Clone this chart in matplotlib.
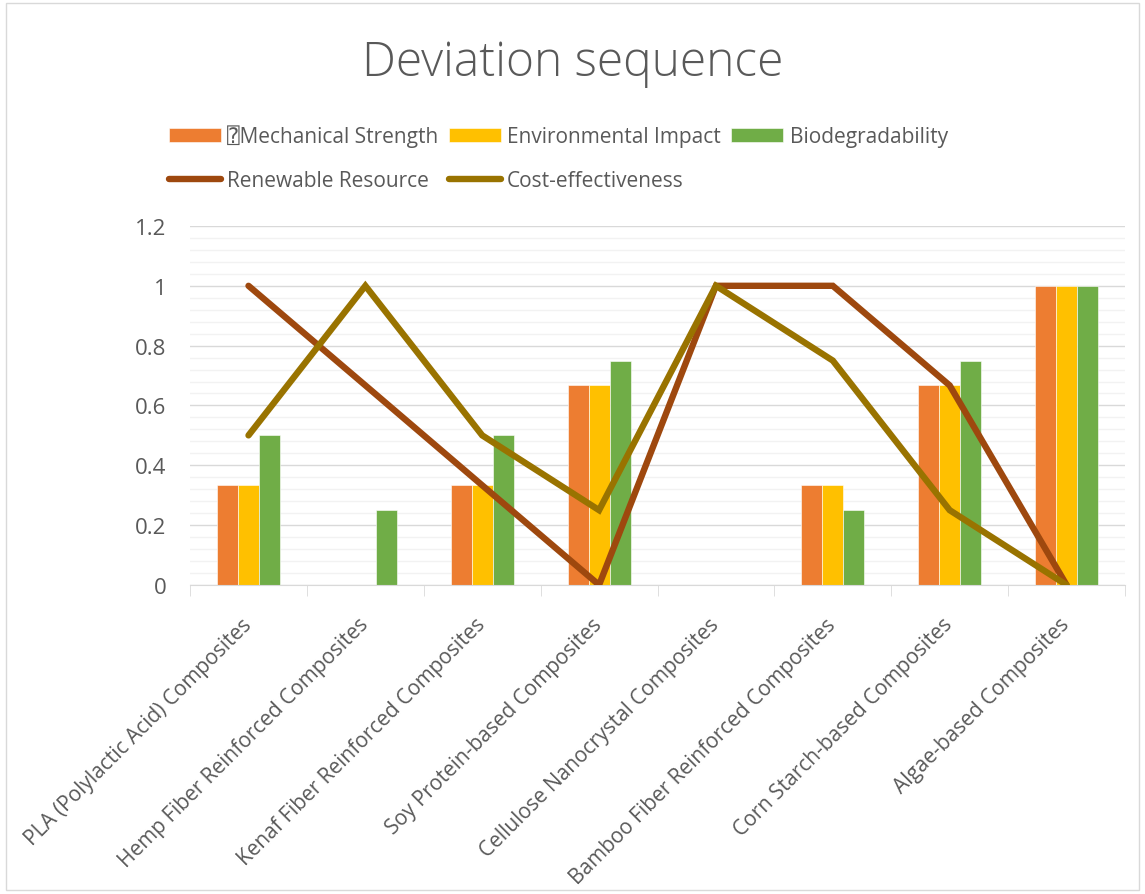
import matplotlib
matplotlib.use('Agg')
import matplotlib.pyplot as plt
from matplotlib.patches import Rectangle
from matplotlib.ticker import MultipleLocator
import numpy as np

plt.rcParams['font.family'] = ['Open Sans', 'DejaVu Sans', 'DejaVu Sans Mono', 'Noto Sans',
                               'Noto Sans CJK SC']

categories = ['PLA (Polylactic Acid) Composites', 'Hemp Fiber Reinforced Composites',
              'Kenaf Fiber Reinforced Composites', 'Soy Protein-based Composites',
              'Cellulose Nanocrystal Composites', 'Bamboo Fiber Reinforced Composites',
              'Corn Starch-based Composites', 'Algae-based Composites']

mechanical = [0.333, 0, 0.333, 0.667, 0, 0.333, 0.667, 1]
environmental = [0.333, 0, 0.333, 0.667, 0, 0.333, 0.667, 1]
biodegradability = [0.5, 0.25, 0.5, 0.75, 0, 0.25, 0.75, 1]
renewable = [1, 0.667, 0.333, 0, 1, 1, 0.667, 0]
cost = [0.5, 1, 0.5, 0.25, 1, 0.75, 0.25, 0]

text_color = '#595959'

fig = plt.figure(figsize=(11.45, 8.95), dpi=100)
fig.patches.append(Rectangle((0.005, 0.005), 0.99, 0.99, transform=fig.transFigure,
                             fill=False, edgecolor='#d9d9d9', linewidth=1))
ax = fig.add_axes([0.166, 0.3453, 0.8165, 0.4011])

x = np.arange(len(categories))
w = 0.18
b1 = ax.bar(x - w, mechanical, w, color='#ED7D31', edgecolor='white', linewidth=0.4,
            label='\u2370Mechanical Strength', zorder=2)
b2 = ax.bar(x, environmental, w, color='#FFC000', edgecolor='white', linewidth=0.4,
            label='Environmental Impact', zorder=2)
b3 = ax.bar(x + w, biodegradability, w, color='#70AD47', edgecolor='white', linewidth=0.4,
            label='Biodegradability', zorder=2)
l1, = ax.plot(x, renewable, color='#9E480E', linewidth=4.6, solid_capstyle='round',
              solid_joinstyle='miter', label='Renewable Resource', zorder=3)
l2, = ax.plot(x, cost, color='#997300', linewidth=4.6, solid_capstyle='round',
              solid_joinstyle='miter', label='Cost-effectiveness', zorder=3)

ax.set_xlim(-0.5, len(categories) - 0.5)
ax.set_ylim(0, 1.2)
ax.yaxis.set_major_locator(MultipleLocator(0.2))
ax.yaxis.set_minor_locator(MultipleLocator(0.04))
ax.grid(axis='y', which='major', color='#d9d9d9', linewidth=1, zorder=0)
ax.grid(axis='y', which='minor', color='#f2f2f2', linewidth=1, zorder=0)
ax.set_axisbelow(True)

for s in ['top', 'right', 'left']:
    ax.spines[s].set_visible(False)
ax.spines['bottom'].set_color('#d9d9d9')

ax.set_yticks([0, 0.2, 0.4, 0.6, 0.8, 1, 1.2])
ax.set_yticklabels(['0', '0.2', '0.4', '0.6', '0.8', '1', '1.2'])
ax.tick_params(axis='y', which='both', length=0, labelsize=16, labelcolor=text_color, pad=17)

ax.set_xticks(x)
ax.set_xticklabels(categories, rotation=45, ha='right', va='center', rotation_mode='anchor')
ax.set_xticks(np.arange(len(categories) + 1) - 0.5, minor=True)
ax.tick_params(axis='x', which='major', length=0, labelsize=15, labelcolor=text_color, pad=26)
ax.tick_params(axis='x', which='minor', length=8, color='#d9d9d9', direction='out')

fig.text(0.5, 1 - 76 / 895, 'Deviation sequence', ha='center', va='baseline',
         fontsize=34.5, fontweight='light', color=text_color)

# ncol=3 fills column-wise, so bars go on the first row and lines on the second
handles = [b1, l1, b2, l2, b3]
fig.legend(handles=handles, labels=[h.get_label() for h in handles], ncol=3,
           loc='upper left', bbox_to_anchor=(0.1310, 0.8804), frameon=False,
           fontsize=15, labelcolor=text_color, handlelength=2.5, handleheight=0.67,
           columnspacing=0.5, handletextpad=0.3, labelspacing=1.1)

fig.savefig('out.png', dpi=100)
